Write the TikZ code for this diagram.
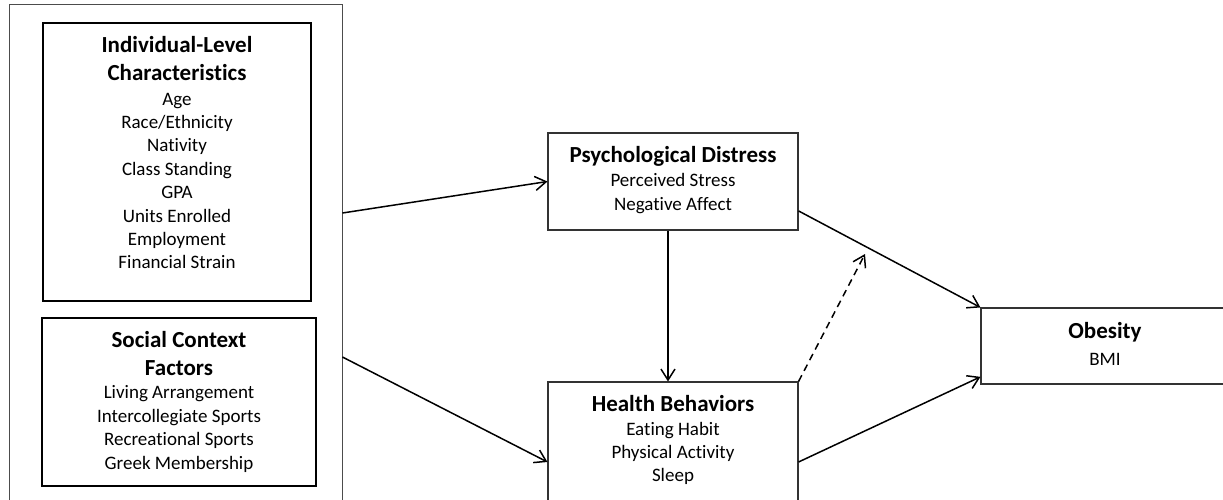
\documentclass[tikz,border=0pt]{standalone}
\usepackage{fontspec}
\setmainfont[Ligatures=NoCommon]{Carlito}
\usetikzlibrary{arrows.meta,calc}

\tikzset{
  frame/.style={draw=black!70, line width=0.9pt, inner sep=0pt},
  groupbox/.style={draw=black, line width=1.5pt, inner sep=0pt},
  varbox/.style={draw=black!80, line width=1.1pt, inner sep=0pt},
  heading/.style={align=center, inner sep=0pt, font=\fontsize{23}{28}\selectfont\bfseries},
  items/.style={align=center, inner sep=0pt, font=\fontsize{19}{23.4}\selectfont},
  path/.style={line width=1.5pt, -{Straight Barb[length=11pt,width=14pt]}},
}

\begin{document}
\begin{tikzpicture}[x=1pt, y=-1pt]
\useasboundingbox (0,0) rectangle (1223,499);
\clip (0,0) rectangle (1223,499);

% outer frame grouping the two sets of predictors
\node[frame, minimum width=333pt, minimum height=526pt] (outer) at (175.5,267) {};

% predictor groups
\node[groupbox, minimum width=268pt, minimum height=278pt] (ind) at (177,162) {};
\node[heading] (indT) at (177,59) {Individual-Level\\Characteristics};
\node[items] (indL) at (177,181) {Age\\Race/Ethnicity\\Nativity\\Class Standing\\GPA\\Units Enrolled\\Employment\\Financial Strain};

\node[groupbox, minimum width=274pt, minimum height=168pt] (soc) at (179,402) {};
\node[heading] (socT) at (179,354) {Social Context\\Factors};
\node[items] (socL) at (179,429) {Living Arrangement\\Intercollegiate Sports\\Recreational Sports\\Greek Membership};

% mediators
\node[varbox, minimum width=250pt, minimum height=97pt] (psy) at (673,181.5) {};
\node[heading] (psyT) at (673,156) {Psychological Distress};
\node[items] (psyL) at (673,193.5) {Perceived Stress\\Negative Affect};

\node[varbox, minimum width=250pt, minimum height=160pt] (hb) at (673,462) {};
\node[heading] (hbT) at (673,404) {Health Behaviors};
\node[items] (hbL) at (673,453.5) {Eating Habit\\Physical Activity\\Sleep};

% outcome
\node[varbox, minimum width=248pt, minimum height=76pt] (ob) at (1105,346) {};
\node[heading] (obT) at (1105,332) {Obesity};
\node[items] (obL) at (1105,359) {BMI};

% paths
\coordinate (outA) at (outer.east |- 0,213);
\coordinate (outB) at (outer.east |- 0,357);
\coordinate (mod) at (865,254);

\draw[path] (outA) -- (psy.west);
\draw[path] (outB) -- (hb.west);
\draw[path] ($(psy.south west)!0.48!(psy.south east)$) -- ($(hb.north west)!0.48!(hb.north east)$);
\draw[path] ($(psy.north east)!0.8!(psy.south east)$) -- (ob.north west);
\draw[path] (hb.east) -- ($(ob.north west)!0.9!(ob.south west)$);
\draw[path, dashed, dash pattern=on 7pt off 5pt] (hb.north east) -- (mod);
\end{tikzpicture}
\end{document}
